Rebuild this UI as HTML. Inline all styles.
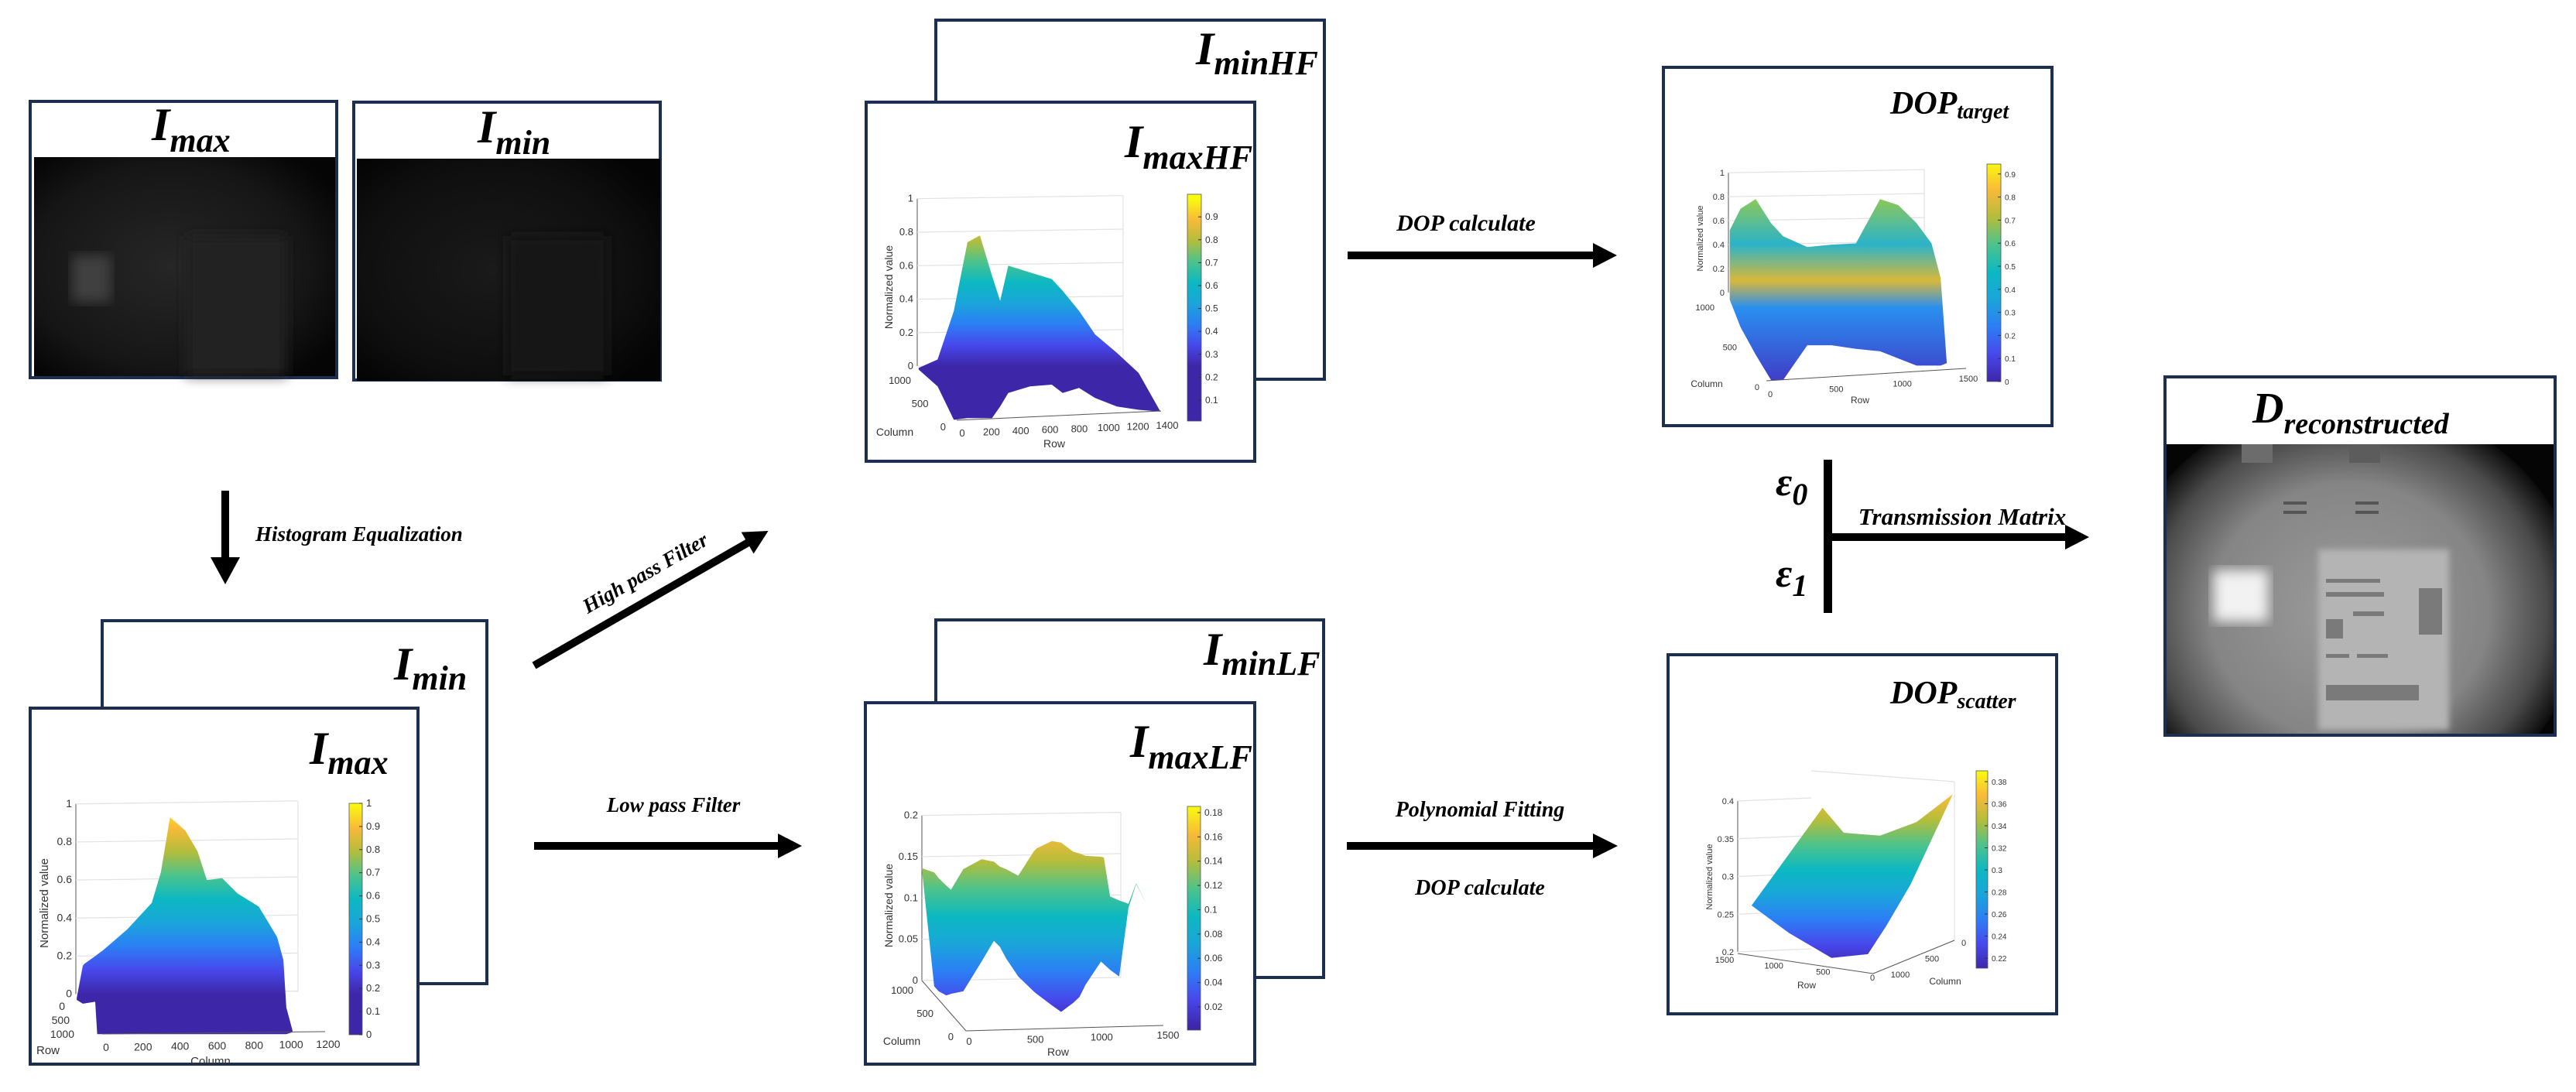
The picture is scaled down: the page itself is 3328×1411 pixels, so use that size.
<!DOCTYPE html>
<html><head><meta charset="utf-8"><title>Polarization pipeline</title>
<style>
html,body{margin:0;padding:0;background:#fff;}
svg{display:block;}
.ttl{font-family:"Liberation Serif",serif;font-weight:bold;font-style:italic;fill:#000;}
.lbl{font-family:"Liberation Serif",serif;font-weight:bold;font-style:italic;fill:#000;}
.tk{font-family:"Liberation Sans",sans-serif;fill:#333;}
.box{fill:#fff;stroke:#1d2f50;stroke-width:4;}
</style></head>
<body>
<svg id="fig" width="3328" height="1411" viewBox="0 0 3328 1411">
<defs>
  <filter id="blur8"><feGaussianBlur stdDeviation="8"/></filter>
  <filter id="blur4"><feGaussianBlur stdDeviation="4"/></filter>
  <radialGradient id="photoMax" cx="0.45" cy="0.5" r="0.65"><stop offset="0" stop-color="#262626"/><stop offset="0.7" stop-color="#161616"/><stop offset="1" stop-color="#050505"/></radialGradient>
  <radialGradient id="photoMin" cx="0.45" cy="0.5" r="0.65"><stop offset="0" stop-color="#1a1a1a"/><stop offset="0.7" stop-color="#0f0f0f"/><stop offset="1" stop-color="#040404"/></radialGradient>
  <radialGradient id="recon" cx="0.5" cy="0.5" r="0.5"><stop offset="0" stop-color="#9c9c9c"/><stop offset="0.6" stop-color="#858585"/><stop offset="0.85" stop-color="#4a4a4a"/><stop offset="1" stop-color="#0c0c0c"/></radialGradient>
  <clipPath id="reconClip"><rect x="2799" y="574" width="501" height="375"/></clipPath>
  <linearGradient id="dopT" x1="0" y1="0" x2="0" y2="1"><stop offset="0" stop-color="#8cc85a"/><stop offset="0.25" stop-color="#2bb3c8"/><stop offset="0.45" stop-color="#d8b83a"/><stop offset="0.6" stop-color="#2a8ff0"/><stop offset="1" stop-color="#3f3ec8"/></linearGradient>
</defs>

<g>
  <rect class="box" x="39" y="131" width="396" height="357"/>
  <rect x="44" y="203" width="389" height="283" fill="url(#photoMax)"/>
  <rect x="93" y="330" width="50" height="60" fill="#404040" filter="url(#blur8)"/>
  <rect x="240" y="305" width="130" height="180" fill="#222" filter="url(#blur8)"/>
  <text class="ttl" x="196" y="181" font-size="60">I<tspan font-size="44" dy="15">max</tspan></text>
</g>
<g>
  <rect class="box" x="457" y="132" width="396" height="359"/>
  <rect x="461" y="205" width="392" height="287" fill="url(#photoMin)"/>
  <rect x="655" y="305" width="130" height="180" fill="#191919" filter="url(#blur8)"/>
  <text class="ttl" x="617" y="184" font-size="60">I<tspan font-size="44" dy="15">min</tspan></text>
</g>

<g>
  <rect x="286" y="634" width="10" height="90" fill="#000"/>
  <polygon points="272,720 310,720 291,755" fill="#000"/>
</g>
<text class="lbl" x="330" y="699" font-size="27">Histogram Equalization</text>

<g transform="translate(690,860) rotate(-29.9)">
  <rect x="0" y="-5" width="322" height="10" fill="#000"/>
  <polygon points="318,-16 349,0 318,16" fill="#000"/>
</g>
<text class="lbl" x="838" y="748" font-size="27" text-anchor="middle" transform="rotate(-29.9 838 748)">High pass Filter</text>

<g>
  <rect x="690" y="1088" width="318" height="10" fill="#000"/>
  <polygon points="1005,1077 1036,1093 1005,1109" fill="#000"/>
</g>
<text class="lbl" x="870" y="1049" font-size="27" text-anchor="middle">Low pass Filter</text>

<g>
  <rect x="1741" y="325" width="320" height="10" fill="#000"/>
  <polygon points="2058,314 2089,330 2058,346" fill="#000"/>
</g>
<text class="lbl" x="1894" y="298" font-size="30" text-anchor="middle">DOP calculate</text>

<g>
  <rect x="1740" y="1088" width="320" height="10" fill="#000"/>
  <polygon points="2058,1077 2090,1093 2058,1109" fill="#000"/>
</g>
<text class="lbl" x="1912" y="1055" font-size="28" text-anchor="middle">Polynomial Fitting</text>
<text class="lbl" x="1912" y="1156" font-size="28" text-anchor="middle">DOP calculate</text>

<g>
  <rect x="2356" y="594" width="11" height="198" fill="#000"/>
  <rect x="2366" y="689" width="304" height="10" fill="#000"/>
  <polygon points="2668,678 2699,694 2668,710" fill="#000"/>
</g>
<text class="lbl" x="2535" y="678" font-size="31" text-anchor="middle">Transmission Matrix</text>
<text class="ttl" x="2294" y="640" font-size="52">ε<tspan font-size="40" dy="12">0</tspan></text>
<text class="ttl" x="2294" y="758" font-size="52">ε<tspan font-size="40" dy="12">1</tspan></text>

<rect class="box" x="132" y="802" width="497" height="469"/>
<text class="ttl" x="509" y="878" font-size="60">I<tspan font-size="44" dy="13">min</tspan></text>
<g id="plotBL">
  <rect class="box" x="39" y="915" width="501" height="460"/>
  <text class="ttl" x="400" y="987" font-size="60">I<tspan font-size="44" dy="13">max</tspan></text>
</g>

<rect class="box" x="1209" y="26" width="502" height="464"/>
<text class="ttl" x="1545" y="83" font-size="60">I<tspan font-size="44" dy="13">minHF</tspan></text>
<g id="plotHF">
  <rect class="box" x="1119" y="132" width="502" height="464"/>
  <text class="ttl" x="1453" y="203" font-size="60">I<tspan font-size="44" dy="15">maxHF</tspan></text>
</g>

<rect class="box" x="1209" y="801" width="501" height="462"/>
<text class="ttl" x="1555" y="859" font-size="60">I<tspan font-size="44" dy="13">minLF</tspan></text>
<g id="plotLF">
  <rect class="box" x="1118" y="908" width="503" height="467"/>
  <text class="ttl" x="1460" y="978" font-size="60">I<tspan font-size="44" dy="15">maxLF</tspan></text>
</g>

<g id="plotDT">
  <rect class="box" x="2149" y="87" width="502" height="463"/>
  <text class="ttl" x="2442" y="147" font-size="42">DOP<tspan font-size="28" dy="6">target</tspan></text>
</g>
<g id="plotDS">
  <rect class="box" x="2155" y="846" width="502" height="464"/>
  <text class="ttl" x="2442" y="909" font-size="42">DOP<tspan font-size="28" dy="6">scatter</tspan></text>
</g>

<g>
  <rect class="box" x="2797" y="487" width="504" height="463"/>
  <g clip-path="url(#reconClip)">
    <rect x="2799" y="574" width="501" height="375" fill="#050505"/>
    <ellipse cx="3035" cy="790" rx="300" ry="275" fill="url(#recon)"/>
    <rect x="2995" y="710" width="169" height="233" fill="#b4b4b4" filter="url(#blur4)"/>
    <g fill="#7a7a7a">
      <rect x="3005" y="748" width="70" height="5"/><rect x="3005" y="765" width="75" height="6"/>
      <rect x="3005" y="800" width="22" height="25"/><rect x="3040" y="790" width="40" height="6"/>
      <rect x="3005" y="845" width="30" height="5"/><rect x="3045" y="845" width="40" height="5"/>
      <rect x="3005" y="885" width="120" height="20"/>
      <rect x="3125" y="760" width="30" height="60"/>
    </g>
    <rect x="2896" y="573" width="40" height="25" fill="#6c6c6c"/>
    <rect x="3035" y="573" width="40" height="25" fill="#5c5c5c"/>
    <rect x="2950" y="648" width="30" height="4" fill="#555"/><rect x="2950" y="660" width="30" height="4" fill="#555"/>
    <rect x="3043" y="648" width="30" height="4" fill="#555"/><rect x="3043" y="660" width="30" height="4" fill="#555"/>
    <rect x="2860" y="737" width="70" height="66" fill="#f2f2f2" filter="url(#blur8)"/>
  </g>
  <rect x="2799" y="489" width="500" height="85" fill="#fff"/>
  <rect x="2797" y="487" width="504" height="463" fill="none" stroke="#1d2f50" stroke-width="4"/>
  <text class="ttl" x="2910" y="546" font-size="56">D<tspan font-size="38" dy="14">reconstructed</tspan></text>
</g>
</svg>

<script>
const blTopCols = [-141,-108,-99,-41,0,132,265,314,364,447,513,563,646,728,844,894,943,977,993,1026];
const blTopVals = [-0.02,0.15,0.16,0.20,0.23,0.34,0.48,0.64,0.93,0.86,0.75,0.60,0.61,0.53,0.46,0.38,0.30,0.18,-0.07,-0.19];
const blBotCols = [-141,-108,-41,-30,0,300,600,900,993,1026];
const blBotVals = [-0.03,-0.05,-0.04,-0.21,-0.21,-0.21,-0.21,-0.21,-0.21,-0.20];
const blZTicks = [0,0.2,0.4,0.6,0.8,1];
const blZLabels = ["0","0.2","0.4","0.6","0.8","1"];
const blCbTicks = [0,0.1,0.2,0.3,0.4,0.5,0.6,0.7,0.8,0.9,1];
const blCbLabels = ["0","0.1","0.2","0.3","0.4","0.5","0.6","0.7","0.8","0.9","1"];
const blColLabels = ["0","200","400","600","800","1000","1200"];
const blRowLabels = ["0","500","1000"];

const hfRows = [0,110,204,283,355,425,472,519,645,771,834,929,1022,1148,1274,1400];
const hfTop = [-0.01,0.04,0.33,0.74,0.78,0.54,0.39,0.60,0.56,0.52,0.45,0.33,0.19,0.08,-0.04,-0.27];
const hfBottom = [-0.02,-0.12,-0.32,-0.31,-0.31,-0.31,-0.24,-0.16,-0.12,-0.11,-0.16,-0.13,-0.19,-0.24,-0.26,-0.27];
const hfZTicks = [0,0.2,0.4,0.6,0.8,1];
const hfZLabels = ["0","0.2","0.4","0.6","0.8","1"];
const hfCbTicks = [0.1,0.2,0.3,0.4,0.5,0.6,0.7,0.8,0.9];
const hfCbLabels = ["0.1","0.2","0.3","0.4","0.5","0.6","0.7","0.8","0.9"];
const hfRowLabels = ["0","200","400","600","800","1000","1200","1400"];
const hfColLabels = ["0","500","1000"];

const lfRows = [0,82,112,163,194,276,398,480,520,561,643,745,765,867,929,1010,1051,1092,1194,1214,1255,1316,1378,1429,1500];
const lfTop = [0.136,0.131,0.124,0.115,0.110,0.135,0.147,0.144,0.138,0.135,0.127,0.156,0.160,0.169,0.167,0.156,0.154,0.151,0.150,0.149,0.102,0.097,0.093,0.118,0.092];
const lfBottom = [0.135,-0.007,-0.013,-0.018,-0.016,-0.013,0.023,0.048,0.041,0.027,0.005,-0.013,-0.016,-0.030,-0.038,-0.027,-0.020,-0.005,0.023,0.020,0.013,0.005,0.088,0.117,0.092];
const lfZTicks = [0,0.05,0.1,0.15,0.2];
const lfZLabels = ["0","0.05","0.1","0.15","0.2"];
const lfCbTicks = [0.02,0.04,0.06,0.08,0.1,0.12,0.14,0.16,0.18];
const lfCbLabels = ["0.02","0.04","0.06","0.08","0.1","0.12","0.14","0.16","0.18"];
const lfRowLabels = ["0","500","1000","1500"];
const lfColLabels = ["0","500","1000"];

const dtRows = [0,75,180,285,369,536,704,872,1039,1165,1291,1395,1458,1500];
const dtTop = [0.52,0.70,0.78,0.58,0.47,0.38,0.40,0.41,0.78,0.73,0.58,0.41,0.12,-0.58];
const dtBottom = [-0.06,-0.29,-0.52,-0.73,-0.73,-0.44,-0.44,-0.47,-0.49,-0.55,-0.61,-0.61,-0.61,-0.59];
const dtZTicks = [0,0.2,0.4,0.6,0.8,1];
const dtZLabels = ["0","0.2","0.4","0.6","0.8","1"];
const dtCbTicks = [0,0.1,0.2,0.3,0.4,0.5,0.6,0.7,0.8,0.9];
const dtCbLabels = ["0","0.1","0.2","0.3","0.4","0.5","0.6","0.7","0.8","0.9"];
const dtRowLabels = ["0","500","1000","1500"];
const dtColLabels = ["0","500","1000"];

const dsTopRows = [0,529,687,958,1229,1500];
const dsTopVals = [0.2615,0.391,0.358,0.354,0.372,0.409];
const dsBotRows = [0,280,596,867,1003,1184,1500];
const dsBotVals = [0.2615,0.225,0.192,0.197,0.234,0.289,0.409];
const dsZTicks = [0.2,0.25,0.3,0.35,0.4];
const dsZLabels = ["0.2","0.25","0.3","0.35","0.4"];
const dsCbTicks = [0.22,0.24,0.26,0.28,0.3,0.32,0.34,0.36,0.38];
const dsCbLabels = ["0.22","0.24","0.26","0.28","0.3","0.32","0.34","0.36","0.38"];
const dsRowLabels = ["1500","1000","500","0"];
const dsColLabels = ["1000","500","0"];

const svg = document.getElementById('fig');
const defs = svg.querySelector('defs');
const NSU = svg.namespaceURI;
const PARULA = [[0,'#3e26a8'],[0.125,'#4748ec'],[0.25,'#2c7ef5'],[0.375,'#1aa5da'],[0.5,'#0cb8c2'],[0.625,'#4cc38c'],[0.75,'#b4bd3c'],[0.875,'#f9ba38'],[1,'#f9fb0e']];
function mk(tag, attrs, parent){ const e=document.createElementNS(NSU,tag); for(const k in attrs) e.setAttribute(k,attrs[k]); (parent||svg).appendChild(e); return e; }
function parulaGrad(id, yBottom, yTop){
  const g = mk('linearGradient',{id:id,gradientUnits:'userSpaceOnUse',x1:0,x2:0,y1:yBottom,y2:yTop},defs);
  PARULA.forEach(s=>mk('stop',{offset:s[0],'stop-color':s[1]},g));
}
function surface(parent, topX, topZ, botX, botZ, xs, zs, fill, name){
  const pts=[];
  for(let i=0;i<topX.length;i++) pts.push(xs(topX[i]).toFixed(1)+','+zs(topZ[i]).toFixed(1));
  for(let i=botX.length-1;i>=0;i--) pts.push(xs(botX[i]).toFixed(1)+','+zs(botZ[i]).toFixed(1));
  const p = mk('polygon',{points:pts.join(' '),fill:fill},parent);
  
  
}
function zAxis(parent, axX, gridRight, ticks, labels, zs, fs, name){
  mk('line',{x1:axX,x2:axX,y1:zs(ticks[ticks.length-1]),y2:zs(ticks[0]),stroke:'#555','stroke-width':1},parent);
  ticks.forEach((t,i)=>{
    mk('line',{x1:axX,x2:gridRight,y1:zs(t),y2:zs(t)-4,stroke:'#e2e2e2','stroke-width':1.2},parent);
    const tx = mk('text',{x:axX-5,y:zs(t)+4,'font-size':fs,'text-anchor':'end',class:'tk'},parent);
    tx.textContent = labels[i];
    
    
  });
}
function colorbar(parent, x, w, yTop, yBot, gradId, ticks, labels, cs, fs, name){
  const r = mk('rect',{x:x,y:yTop,width:w,height:yBot-yTop,fill:'url(#'+gradId+')',stroke:'#555','stroke-width':0.8},parent);
  
  
  ticks.forEach((t,i)=>{
    mk('line',{x1:x+w-4,x2:x+w,y1:cs(t),y2:cs(t),stroke:'#333','stroke-width':1},parent);
    const tx = mk('text',{x:x+w+5,y:cs(t)+4,'font-size':fs,class:'tk'},parent);
    tx.textContent = labels[i];
    
    
  });
}
function labelsAlong(parent, labels, x0, y0, x1, y1, fs, anchor, name){
  labels.forEach((l,i)=>{
    const f = labels.length>1 ? i/(labels.length-1) : 0;
    const tx = mk('text',{x:x0+(x1-x0)*f,y:y0+(y1-y0)*f,'font-size':fs,'text-anchor':anchor,class:'tk'},parent);
    tx.textContent = l;
    
    
  });
}
function txt(parent, s, x, y, fs, name, rot){
  const a = {x:x,y:y,'font-size':fs,'text-anchor':'middle',class:'tk'};
  if(rot) a.transform='rotate(-90 '+x+' '+y+')';
  const t = mk('text',a,parent); t.textContent=s;
  
  
}

(function(){
  const g = document.getElementById('plotBL');
  const xs = c => 132.8 + c*0.2388;
  const zs = z => 1284.6 - z*245.8;
  const cs = v => 1337 - v*299;
  parulaGrad('gBL', zs(0), zs(1));
  zAxis(g, 98, 385, blZTicks, blZLabels, zs, 14, 'imax-z-axis');
  mk('line',{x1:385,x2:385,y1:zs(1)-3,y2:zs(0)-4,stroke:'#e2e2e2','stroke-width':1.2},g);
  surface(g, blTopCols, blTopVals, blBotCols, blBotVals, xs, zs, 'url(#gBL)', 'imax-surface');
  mk('line',{x1:132,x2:420,y1:1336,y2:1333,stroke:'#555','stroke-width':1},g);
  labelsAlong(g, blColLabels, 137, 1358, 424, 1354, 14, 'middle', 'imax-column-tick-label');
  labelsAlong(g, blRowLabels, 84, 1305, 96, 1341, 14, 'end', 'imax-row-tick-label');
  txt(g,'Row',62,1362,15,'imax-row-axis-title');
  txt(g,'Column',272,1376,15,'imax-column-axis-title');
  txt(g,'Normalized value',62,1167,15,'imax-z-axis-title',true);
  colorbar(g, 451, 17, 1038, 1337, 'gBL', blCbTicks, blCbLabels, cs, 13, 'imax-colorbar');
})();

(function(){
  const g = document.getElementById('plotHF');
  const xs = r => 1186.8 + r*0.2231;
  const zs = z => 473.2 - z*216.5;
  const cs = v => 546.6 - v*296;
  parulaGrad('gHF', zs(0), zs(1));
  zAxis(g, 1185, 1451, hfZTicks, hfZLabels, zs, 13, 'imaxhf-z-axis');
  mk('line',{x1:1451,x2:1451,y1:zs(1)-4,y2:zs(0)-4,stroke:'#e2e2e2','stroke-width':1.2},g);
  surface(g, hfRows, hfTop, hfRows, hfBottom, xs, zs, 'url(#gHF)', 'imaxhf-surface');
  mk('line',{x1:1236,x2:1500,y1:543,y2:531,stroke:'#555','stroke-width':1},g);
  labelsAlong(g, hfRowLabels, 1243, 564, 1508, 554, 13, 'middle', 'imaxhf-row-tick-label');
  labelsAlong(g, hfColLabels, 1222, 556, 1177, 496, 13, 'end', 'imaxhf-column-tick-label');
  txt(g,'Row',1362,578,14,'imaxhf-row-axis-title');
  txt(g,'Column',1156,563,14,'imaxhf-column-axis-title');
  txt(g,'Normalized value',1153,371,14,'imaxhf-z-axis-title',true);
  colorbar(g, 1534, 18, 251, 544, 'gHF', hfCbTicks, hfCbLabels, cs, 12, 'imaxhf-colorbar');
})();

(function(){
  const g = document.getElementById('plotLF');
  const xs = r => 1191 + r*0.19368;
  const zs = z => 1267 - z*1067;
  const cs = v => 1301 - (v-0.02)*1569;
  parulaGrad('gLF', cs(0.0035), cs(0.185));
  zAxis(g, 1191, 1448, lfZTicks, lfZLabels, zs, 13, 'imaxlf-z-axis');
  mk('line',{x1:1448,x2:1448,y1:zs(0.2)-4,y2:zs(0)-4,stroke:'#e2e2e2','stroke-width':1.2},g);
  surface(g, lfRows, lfTop, lfRows, lfBottom, xs, zs, 'url(#gLF)', 'imaxlf-surface');
  mk('line',{x1:1248,x2:1503,y1:1332,y2:1325,stroke:'#555','stroke-width':1},g);
  mk('line',{x1:1191,x2:1248,y1:1267,y2:1332,stroke:'#555','stroke-width':1},g);
  labelsAlong(g, lfRowLabels, 1252, 1350, 1509, 1342, 13, 'middle', 'imaxlf-row-tick-label');
  labelsAlong(g, lfColLabels, 1232, 1344, 1180, 1284, 13, 'end', 'imaxlf-column-tick-label');
  txt(g,'Row',1367,1364,14,'imaxlf-row-axis-title');
  txt(g,'Column',1165,1350,14,'imaxlf-column-axis-title');
  txt(g,'Normalized value',1153,1170,14,'imaxlf-z-axis-title',true);
  colorbar(g, 1534, 17, 1042, 1331, 'gLF', lfCbTicks, lfCbLabels, cs, 12, 'imaxlf-colorbar');
})();

(function(){
  const g = document.getElementById('plotDT');
  const xs = r => 2234.7 + r*0.1869;
  const zs = z => 378 - z*154.8;
  const cs = v => 493 - v*298;
  parulaGrad('gDT', cs(0), cs(0.95));
  zAxis(g, 2233, 2486, dtZTicks, dtZLabels, zs, 11, 'dop-target-z-axis');
  mk('line',{x1:2486,x2:2486,y1:zs(1)-4,y2:zs(0)-4,stroke:'#e2e2e2','stroke-width':1.2},g);
  surface(g, dtRows, dtTop, dtRows, dtBottom, xs, zs, 'url(#dopT)', 'dop-target-surface');
  mk('line',{x1:2282,x2:2540,y1:492,y2:476,stroke:'#555','stroke-width':1},g);
  labelsAlong(g, dtRowLabels, 2287, 513, 2543, 493, 11, 'middle', 'dop-target-row-tick-label');
  labelsAlong(g, dtColLabels, 2273, 504, 2215, 401, 11, 'end', 'dop-target-column-tick-label');
  txt(g,'Row',2403,521,12,'dop-target-row-axis-title');
  txt(g,'Column',2205,500,12,'dop-target-column-axis-title');
  txt(g,'Normalized value',2200,308,11,'dop-target-z-axis-title',true);
  colorbar(g, 2567, 18, 212, 493, 'gDT', dtCbTicks, dtCbLabels, cs, 10, 'dop-target-colorbar');
})();

(function(){
  const g = document.getElementById('plotDS');
  const xs = r => 2262.9 + r*0.17333;
  const zs = z => 1230 - (z-0.2)*975;
  const cs = v => 1238 - (v-0.22)*1425;
  parulaGrad('gDS', cs(0.21), cs(0.39));
  zAxis(g, 2245, 2340, dsZTicks, dsZLabels, zs, 11, 'dop-scatter-z-axis');
  mk('line',{x1:2340,x2:2525,y1:996,y2:1010,stroke:'#e2e2e2','stroke-width':1.2},g);
  mk('line',{x1:2525,x2:2525,y1:1010,y2:1215,stroke:'#e2e2e2','stroke-width':1.2},g);
  mk('line',{x1:2245,x2:2420,y1:1232,y2:1258,stroke:'#555','stroke-width':1},g);
  mk('line',{x1:2420,x2:2525,y1:1258,y2:1215,stroke:'#555','stroke-width':1},g);
  surface(g, dsTopRows, dsTopVals, dsBotRows, dsBotVals, xs, zs, 'url(#gDS)', 'dop-scatter-surface');
  labelsAlong(g, dsRowLabels, 2228, 1244, 2419, 1267, 11, 'middle', 'dop-scatter-row-tick-label');
  labelsAlong(g, dsColLabels, 2455, 1263, 2537, 1222, 11, 'middle', 'dop-scatter-column-tick-label');
  txt(g,'Row',2334,1277,12,'dop-scatter-row-axis-title');
  txt(g,'Column',2513,1272,12,'dop-scatter-column-axis-title');
  txt(g,'Normalized value',2212,1133,11,'dop-scatter-z-axis-title',true);
  colorbar(g, 2553, 15, 996, 1251, 'gDS', dsCbTicks, dsCbLabels, cs, 10, 'dop-scatter-colorbar');
})();
</script>
</body></html>
